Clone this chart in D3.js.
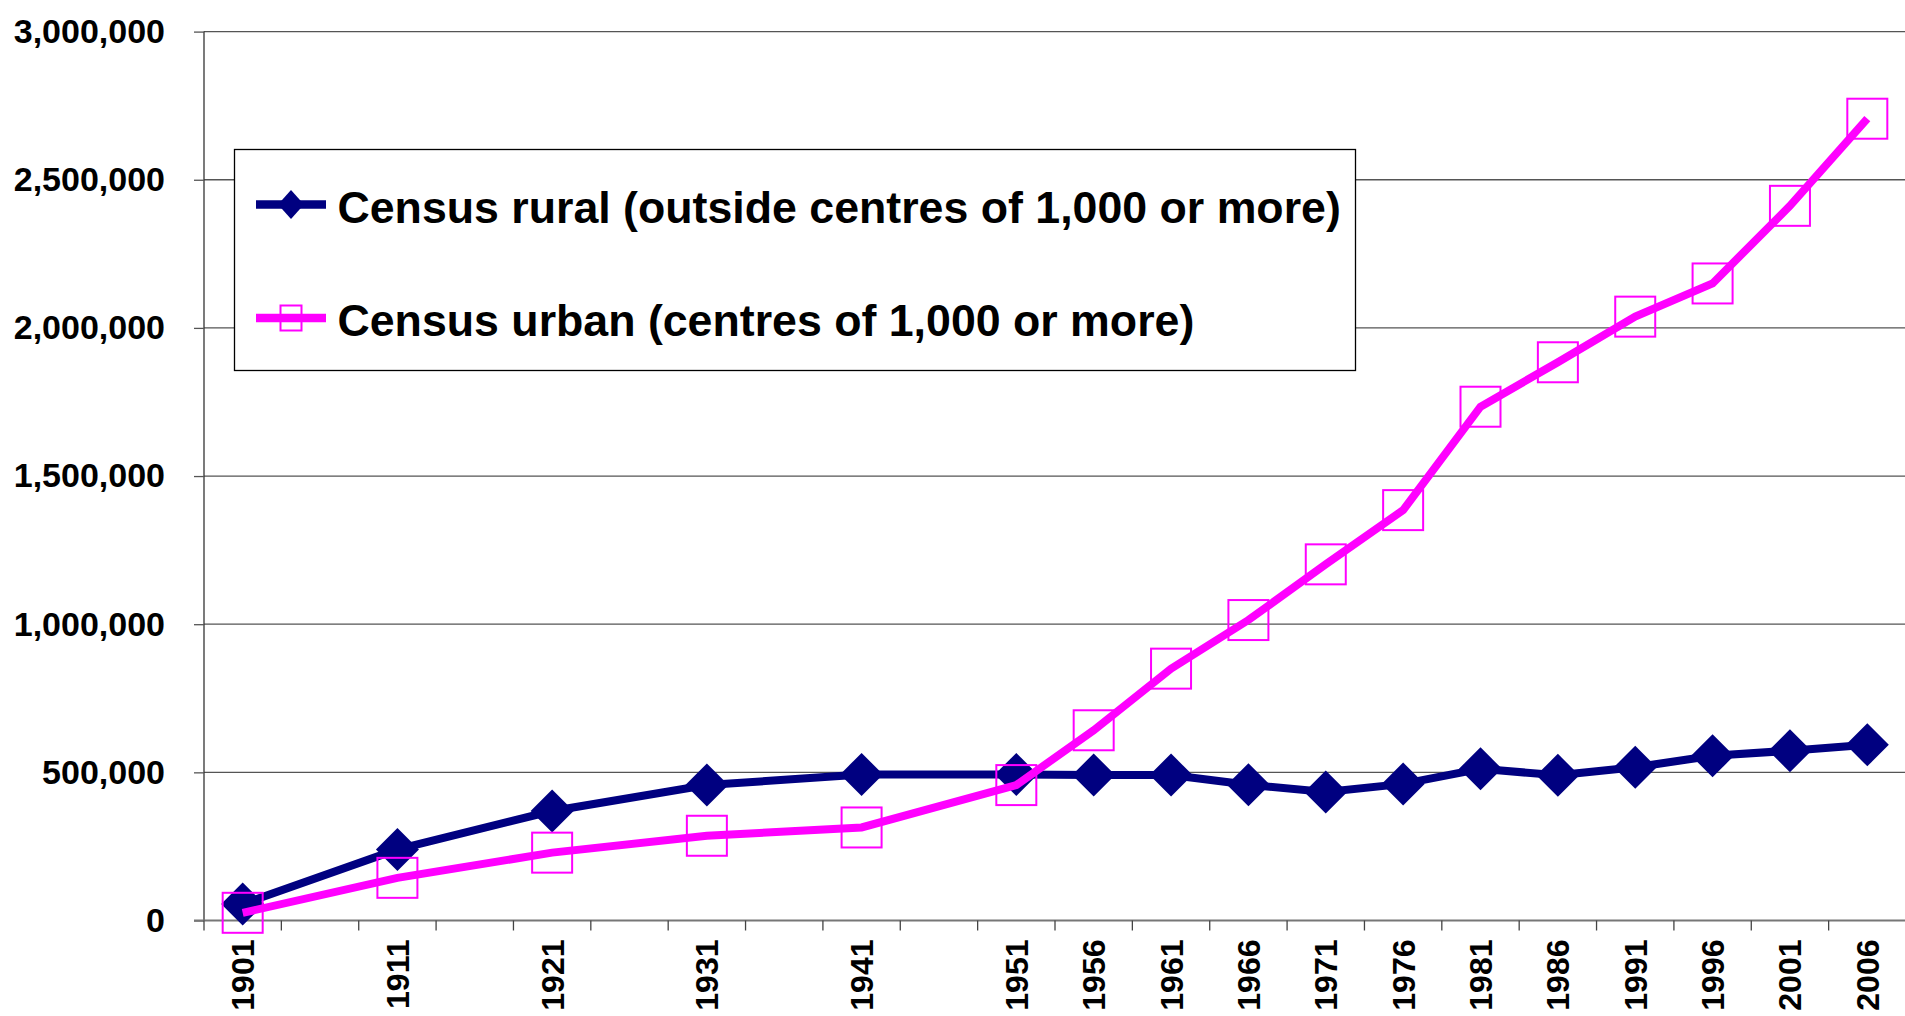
<!DOCTYPE html>
<html>
<head>
<meta charset="utf-8">
<script src="https://cdn.jsdelivr.net/npm/d3@7/dist/d3.min.js"></script>
<style>
  html, body { margin: 0; padding: 0; background: #fff; }
  svg { display: block; font-family: "Liberation Sans", Arial, sans-serif; }
</style>
</head>
<body>
<svg id="chart" width="1905" height="1016"></svg>
<script>
// ---- data ----
const categories = ["1901","1906","1911","1916","1921","1926","1931","1936","1941","1946","1951","1956","1961","1966","1971","1976","1981","1986","1991","1996","2001","2006"];
const years = ["1901","1911","1921","1931","1941","1951","1956","1961","1966","1971","1976","1981","1986","1991","1996","2001","2006"];
const rural = [55700, 240000, 369500, 457000, 493000, 493000, 491000, 491000, 458000, 434000, 461000, 512000, 490000, 517000, 556000, 573000, 593000];
const urban = [26000, 144000, 229000, 286000, 314000, 457000, 642000, 850000, 1014000, 1202000, 1385000, 1734000, 1884000, 2038000, 2150000, 2412000, 2706000];
const yTicks = [0, 500000, 1000000, 1500000, 2000000, 2500000, 3000000];
const seriesNames = ["Census rural (outside centres of 1,000 or more)", "Census urban (centres of 1,000 or more)"];

const navy = "#000080", magenta = "#FF00FF";

const svg = d3.select("#chart");
const pL = 204, pR = 1906, pT = 31.6, pB = 920.5;

const x = d3.scaleBand().domain(categories).range([pL, pR]).padding(0);
const y = d3.scaleLinear().domain([0, 3000000]).range([pB, pT]);
const cx = d => x(d) + x.bandwidth() / 2;

// gridlines
svg.append("g").selectAll("line").data(yTicks.filter(t => t > 0)).join("line")
  .attr("x1", pL).attr("x2", pR)
  .attr("y1", d => y(d)).attr("y2", d => y(d))
  .attr("stroke", "#555").attr("stroke-width", 1.3);

// y axis
const yAxis = svg.append("g").attr("transform", `translate(${pL},0)`)
  .call(d3.axisLeft(y).tickValues(yTicks).tickFormat(d3.format(",")).tickSize(10).tickPadding(29));
yAxis.select(".domain").attr("stroke", "#333").attr("stroke-width", 1.3).attr("d", `M0,${pB}V${pT}`);
yAxis.selectAll(".tick line").attr("stroke", "#555").attr("stroke-width", 1.3);
yAxis.selectAll(".tick text").attr("font-size", 34).attr("font-weight", "bold")
  .attr("fill", "#000").attr("font-family", "Liberation Sans, Arial, sans-serif");

// x axis line
svg.append("line").attr("x1", pL - 10).attr("x2", pR).attr("y1", pB).attr("y2", pB)
  .attr("stroke", "#777").attr("stroke-width", 2);
// x ticks at category boundaries
const bounds = categories.map(c => x(c)).concat([x.range()[1]]);
svg.append("g").selectAll("line").data(bounds).join("line")
  .attr("x1", d => d).attr("x2", d => d).attr("y1", pB).attr("y2", pB + 10)
  .attr("stroke", "#444").attr("stroke-width", 1.3);

// x labels
const xAxis = svg.append("g").attr("transform", `translate(0,${pB})`)
  .call(d3.axisBottom(x).tickValues(years).tickSize(0));
xAxis.select(".domain").remove();
xAxis.selectAll(".tick text")
  .attr("font-size", 32).attr("font-weight", "bold").attr("fill", "#000")
  .attr("font-family", "Liberation Sans, Arial, sans-serif")
  .attr("text-anchor", "end")
  .attr("transform", "translate(0,19) rotate(-90)")
  .attr("x", 0).attr("y", 0).attr("dy", "0.36em");

// lines & markers
const lineGen = vals => d3.line().x((d, i) => cx(years[i])).y(d => y(d))(vals);

svg.append("path").attr("d", lineGen(rural)).attr("fill", "none")
  .attr("stroke", navy).attr("stroke-width", 8).attr("stroke-linejoin", "miter");
svg.append("g").selectAll("path").data(rural).join("path")
  .attr("d", (d, i) => {
    const px = cx(years[i]), py = y(d), r = 21.5;
    return `M${px},${py - r}L${px + r},${py}L${px},${py + r}L${px - r},${py}Z`;
  })
  .attr("fill", navy);

svg.append("path").attr("d", lineGen(urban)).attr("fill", "none")
  .attr("stroke", magenta).attr("stroke-width", 8).attr("stroke-linejoin", "miter");
svg.append("g").selectAll("rect").data(urban).join("rect")
  .attr("x", (d, i) => cx(years[i]) - 20).attr("y", d => y(d) - 20)
  .attr("width", 40).attr("height", 40)
  .attr("fill", "none").attr("stroke", magenta).attr("stroke-width", 2);

// legend
const lg = svg.append("g");
lg.append("rect").attr("x", 234.5).attr("y", 149.5).attr("width", 1121).attr("height", 221)
  .attr("fill", "#fff").attr("stroke", "#000").attr("stroke-width", 1.3);
const rows = [
  { name: seriesNames[0], color: navy, cy: 204.5, marker: "diamond" },
  { name: seriesNames[1], color: magenta, cy: 318, marker: "square" }
];
rows.forEach(r => {
  lg.append("line").attr("x1", 256).attr("x2", 326).attr("y1", r.cy).attr("y2", r.cy)
    .attr("stroke", r.color).attr("stroke-width", 8.5);
  if (r.marker === "diamond") {
    lg.append("path").attr("d", `M291,${r.cy - 14.5}L304,${r.cy}L291,${r.cy + 14.5}L278,${r.cy}Z`).attr("fill", r.color);
  } else {
    lg.append("rect").attr("x", 280.5).attr("y", r.cy - 12.5).attr("width", 21).attr("height", 25)
      .attr("fill", "none").attr("stroke", r.color).attr("stroke-width", 2);
  }
  lg.append("text").attr("x", 337.5).attr("y", r.cy + 18)
    .attr("font-size", 44.7).attr("font-weight", "bold").attr("fill", "#000")
    .text(r.name);
});
</script>
</body>
</html>
